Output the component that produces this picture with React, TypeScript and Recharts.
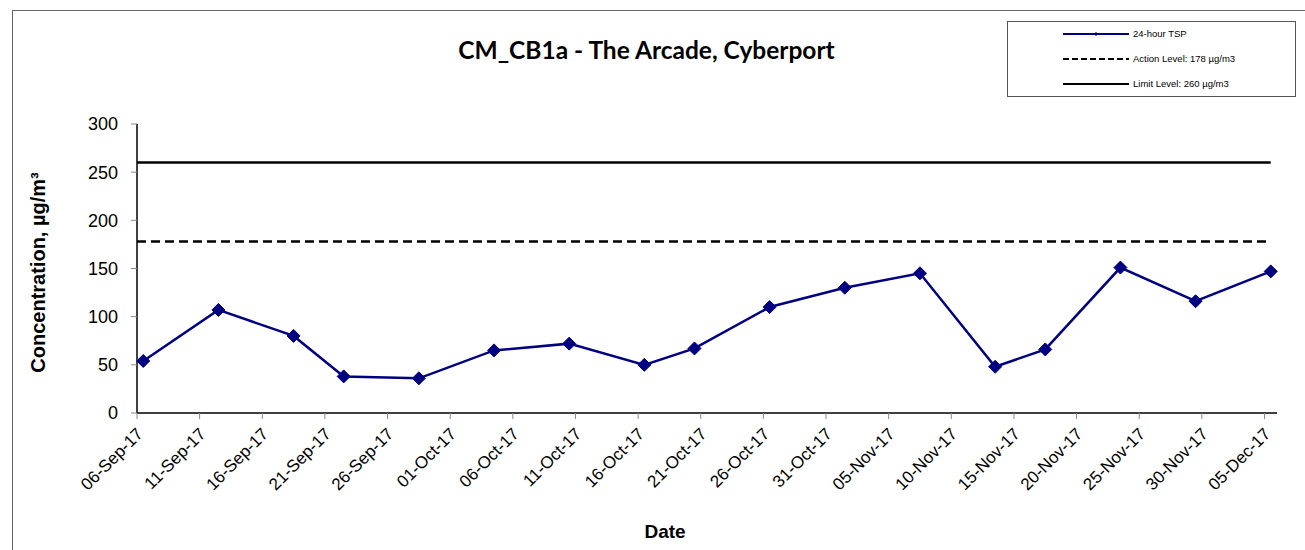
import React from "react";
import {
  LineChart,
  Line,
  XAxis,
  YAxis,
  ReferenceLine,
} from "recharts";

// sampling dates and 24-hour TSP readings (µg/m3)
const dates = [
  "2017-09-06", "2017-09-12", "2017-09-18", "2017-09-22", "2017-09-28",
  "2017-10-04", "2017-10-10", "2017-10-16", "2017-10-20", "2017-10-26",
  "2017-11-01", "2017-11-07", "2017-11-13", "2017-11-17", "2017-11-23",
  "2017-11-29", "2017-12-05",
];
const tsp = [54, 107, 80, 38, 36, 65, 72, 50, 67, 110, 130, 145, 48, 66, 151, 116, 147];

const actionLevel = 178;
const limitLevel = 260;

const yTicks = [0, 50, 100, 150, 200, 250, 300];
const xTickLabels = [
  "06-Sep-17", "11-Sep-17", "16-Sep-17", "21-Sep-17", "26-Sep-17", "01-Oct-17",
  "06-Oct-17", "11-Oct-17", "16-Oct-17", "21-Oct-17", "26-Oct-17", "31-Oct-17",
  "05-Nov-17", "10-Nov-17", "15-Nov-17", "20-Nov-17", "25-Nov-17", "30-Nov-17",
  "05-Dec-17",
];

const START = Date.UTC(2017, 8, 6);
const DAY = 86400000;
const dayOf = (s: string) => {
  const [y, m, d] = s.split("-").map(Number);
  return Math.round((Date.UTC(y, m - 1, d) - START) / DAY);
};

// excel date axis puts each point in the middle of its day
const data = dates.map((d, i) => ({ day: dayOf(d) + 0.5, tsp: tsp[i] }));
const xTicks = xTickLabels.map((_, i) => i * 5);
const lastDay = dayOf(dates[dates.length - 1]) + 0.5;

const NAVY = "#000080";
const FONT = "'Liberation Sans', Arial, sans-serif";

const Diamond = (props: any) => {
  const { cx, cy } = props;
  if (cx == null || cy == null) return null;
  const r = 6.5;
  return (
    <polygon
      points={`${cx},${cy - r} ${cx + r},${cy} ${cx},${cy + r} ${cx - r},${cy}`}
      fill={NAVY}
      stroke={NAVY}
    />
  );
};

const DateTick = (props: any) => {
  const { x, y, payload } = props;
  const label = xTickLabels[Math.round(payload.value / 5)] ?? "";
  const ax = x + 7;
  const ay = y + 14;
  return (
    <text
      x={ax}
      y={ay}
      textAnchor="end"
      transform={`rotate(-45, ${ax}, ${ay})`}
      fontSize={17}
      fontFamily={FONT}
      fill="#000"
    >
      {label}
    </text>
  );
};

function LegendBox() {
  const rows = [
    { label: "24-hour TSP", color: NAVY, dash: undefined, marker: true },
    { label: "Action Level: 178 µg/m3", color: "#000", dash: "6 3", marker: false },
    { label: "Limit Level: 260 µg/m3", color: "#000", dash: undefined, marker: false },
  ];
  return (
    <svg
      width={290}
      height={77}
      style={{ position: "absolute", left: 1007, top: 21 }}
    >
      <rect x={0.5} y={0.5} width={288} height={75} fill="#fff" stroke="#555" />
      {rows.map((r, i) => {
        const y = 13 + i * 25;
        return (
          <g key={r.label}>
            <line x1={56} x2={122} y1={y} y2={y} stroke={r.color} strokeWidth={2} strokeDasharray={r.dash} />
            {r.marker && <line x1={89} x2={89} y1={y - 2} y2={y + 2} stroke={r.color} strokeWidth={1} />}
            <text x={126} y={y + 3} fontSize={9.5} fontFamily={FONT} fill="#000">
              {r.label}
            </text>
          </g>
        );
      })}
    </svg>
  );
}

export default function App() {
  return (
    <div style={{ position: "absolute", left: 0, top: 0, width: 1305, height: 550, background: "#fff", overflow: "hidden" }}>
      <div
        style={{
          position: "absolute",
          left: 12,
          top: 10,
          width: 1400,
          height: 600,
          borderLeft: "1px solid #666",
          borderTop: "1px solid #666",
        }}
      />
      <div
        style={{
          position: "absolute",
          left: 0,
          width: 1293,
          top: 35,
          textAlign: "center",
          fontFamily: "Lato, 'Open Sans', sans-serif",
          fontWeight: 700,
          fontSize: 24.5,
          color: "#000",
        }}
      >
        CM_CB1a - The Arcade, Cyberport
      </div>
      <LegendBox />
      <div style={{ position: "absolute", left: 0, top: 0 }}>
        <LineChart
          width={1305}
          height={550}
          data={data}
          margin={{ top: 124, right: 28, bottom: 0, left: 0 }}
        >
          <XAxis
            dataKey="day"
            type="number"
            domain={[0, 91]}
            ticks={xTicks}
            interval={0}
            height={137}
            axisLine={{ stroke: "#000", strokeWidth: 1.5 }}
            tickLine={{ stroke: "#888" }}
            tickSize={6}
            tick={<DateTick />}
            label={(p: any) => {
              const vb = p.viewBox;
              return (
                <text x={vb.x + 528} y={vb.y + 125} textAnchor="middle" fontSize={19} fontWeight={700} fontFamily={FONT}>
                  Date
                </text>
              );
            }}
          />
          <YAxis
            domain={[0, 300]}
            ticks={yTicks}
            interval={0}
            width={137}
            axisLine={{ stroke: "#000", strokeWidth: 1.5 }}
            tickLine={{ stroke: "#888" }}
            tickSize={6}
            tickMargin={13}
            tick={{ fontSize: 18, fill: "#000", fontFamily: FONT }}
            label={(p: any) => {
              const vb = p.viewBox;
              const cx = vb.x + 38;
              const cy = vb.y + vb.height / 2 + 4;
              return (
                <text
                  x={cx}
                  y={cy}
                  textAnchor="middle"
                  transform={`rotate(-90, ${cx}, ${cy})`}
                  fontSize={20}
                  fontWeight={700}
                  fontFamily={FONT}
                  dy={7}
                >
                  Concentration, µg/m³
                </text>
              );
            }}
          />
          <ReferenceLine
            segment={[{ x: 0, y: limitLevel }, { x: lastDay, y: limitLevel }]}
            stroke="#000"
            strokeWidth={2.5}
          />
          <ReferenceLine
            segment={[{ x: 0, y: actionLevel }, { x: lastDay, y: actionLevel }]}
            stroke="#000"
            strokeWidth={2.5}
            strokeDasharray="9 5"
          />
          <Line
            dataKey="tsp"
            stroke={NAVY}
            strokeWidth={2.5}
            dot={<Diamond />}
            activeDot={false}
            isAnimationActive={false}
          />
        </LineChart>
      </div>
    </div>
  );
}
